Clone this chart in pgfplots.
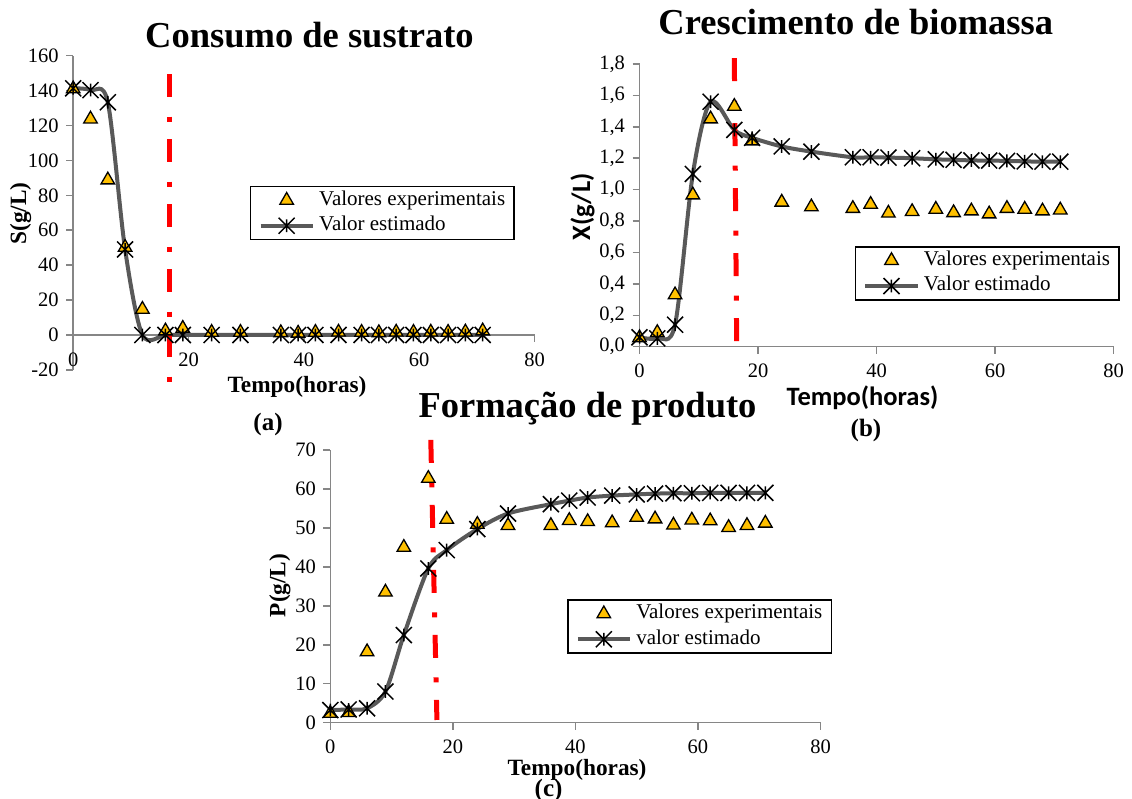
\documentclass[border=0pt]{standalone}
\usepackage{fontspec}
\setmainfont{Liberation Serif}
\newfontfamily\sansb{Carlito}
\usepackage{pgfplots}
\pgfplotsset{compat=1.18}

\definecolor{axgray}{RGB}{134,134,134}
\definecolor{curvegray}{RGB}{89,89,89}
\definecolor{gold}{RGB}{255,192,0}

\pgfdeclareplotmark{exstar}{%
  \pgfpathmoveto{\pgfqpoint{-\pgfplotmarksize}{-\pgfplotmarksize}}%
  \pgfpathlineto{\pgfqpoint{\pgfplotmarksize}{\pgfplotmarksize}}%
  \pgfpathmoveto{\pgfqpoint{-\pgfplotmarksize}{\pgfplotmarksize}}%
  \pgfpathlineto{\pgfqpoint{\pgfplotmarksize}{-\pgfplotmarksize}}%
  \pgfpathmoveto{\pgfqpoint{0pt}{-0.8\pgfplotmarksize}}%
  \pgfpathlineto{\pgfqpoint{0pt}{0.8\pgfplotmarksize}}%
  \pgfusepathqstroke
}

\pgfplotsset{
  panel/.style={
    scale only axis, anchor=south west, clip=false,
    axis line style={axgray, line width=1.5pt},
    tick style={axgray, line width=1.5pt},
    tick align=outside, major tick length=7pt,
    xmin=0, xmax=80, xtick={0,20,40,60,80},
    tick label style={font=\fontsize{20.5}{24}\selectfont, text=black},
    xticklabel style={yshift=-7pt},
    yticklabel style={xshift=-4pt},
    /pgf/number format/assume math mode=true,
    legend cell align=left,
    legend style={draw=black, line width=1.5pt, font=\fontsize{21}{24}\selectfont,
      anchor=north west, inner xsep=8pt, inner ysep=3.5pt, row sep=5pt, column sep=3.5pt,
      nodes={inner sep=1pt, text height=14pt, text depth=4.5pt}},
    legend image code/.code={\draw[mark repeat=2,mark phase=2,##1] plot coordinates {(0pt,0pt) (26pt,0pt) (52pt,0pt)};},
  },
  exp/.style={only marks, mark=triangle*, mark size=7.8pt,
    mark options={fill=gold, draw=black, line width=1.3pt, solid}},
  est/.style={curvegray, line width=4pt, smooth, tension=0.5, mark=exstar, mark size=8pt,
    mark options={draw=black, line width=1.5pt, solid}},
  redl/.style={red, line width=5pt, dash pattern=on 23pt off 19.5pt on 5pt off 17.5pt, forget plot},
}

\begin{document}
\begin{tikzpicture}[x=1pt,y=1pt]
\useasboundingbox (0,0) rectangle (1132,798);

% ---------- (a) ----------
\begin{axis}[axis x line*=middle, axis y line*=left, panel, tick align=outside,
  hide obscured x ticks=false,
  at={(73.2pt,428.1pt)}, width=461.4pt, height=314.2pt,
  ymin=-20, ymax=160, ytick={-20,0,20,40,60,80,100,120,140,160},
  legend style={at={(0.383,0.586)}}]
\addplot[exp] coordinates {(0,141)(3,123.7)(6,88.8)(9,50.2)(12,14.7)(16,2.3)(19,3.8)(24,1.5)(29,1.5)(36,1.3)(39,1.0)(42,1.5)(46,1.6)(50,1.5)(53,1.3)(56,1.6)(59,1.5)(62,1.6)(65,1.5)(68,1.7)(71,2.3)};
\addlegendentry{Valores experimentais}
\addplot[est] coordinates {(0,141.3)(3,140.3)(6,133.3)(9,49)(12,0)(16,0)(19,0)(24,0)(29,0)(36,0)(39,0)(42,0)(46,0)(50,0)(53,0)(56,0)(59,0)(62,0)(65,0)(68,0)(71,0)};
\addlegendentry{Valor estimado}
\addplot[redl] coordinates {(16.7,149.5)(16.7,-27.4)};
\end{axis}

% ---------- (b) ----------
\begin{axis}[axis x line*=bottom, axis y line*=left, panel, tick align=outside,
  at={(639.5pt,451.3pt)}, width=474.1pt, height=282.7pt,
  ymin=0, ymax=1.8, ytick={0,0.2,0.4,0.6,0.8,1.0,1.2,1.4,1.6,1.8},
  yticklabel style={/pgf/number format/.cd, fixed, fixed zerofill, precision=1, use comma},
  legend style={at={(0.454,0.356)}}]
\addplot[exp] coordinates {(0,0.057)(3,0.09)(6,0.33)(9,0.966)(12,1.45)(16,1.53)(19,1.31)(24,0.92)(29,0.89)(36,0.88)(39,0.906)(42,0.85)(46,0.86)(50,0.875)(53,0.853)(56,0.864)(59,0.845)(62,0.88)(65,0.875)(68,0.864)(71,0.87)};
\addlegendentry{Valores experimentais}
\addplot[est] coordinates {(0,0.06)(3,0.053)(6,0.14)(9,1.10)(12,1.56)(16,1.38)(19,1.33)(24,1.275)(29,1.242)(36,1.206)(39,1.206)(42,1.204)(46,1.2)(50,1.193)(53,1.19)(56,1.186)(59,1.185)(62,1.183)(65,1.18)(68,1.178)(71,1.178)};
\addlegendentry{Valor estimado}
\addplot[redl] coordinates {(16.0,1.837)(16.4,0.02)};
\end{axis}

% ---------- (c) ----------
\begin{axis}[axis x line*=bottom, axis y line*=left, panel, tick align=outside,
  at={(330.3pt,75.3pt)}, width=490.2pt, height=272.7pt,
  ymin=0, ymax=70, ytick={0,10,20,30,40,50,60,70},
  legend style={at={(0.483,0.4525)}}]
\addplot[exp] coordinates {(0,2.4)(3,2.6)(6,18.2)(9,33.5)(12,45)(16,62.7)(19,52.2)(24,50.9)(29,50.6)(36,50.6)(39,51.9)(42,51.6)(46,51.3)(50,52.7)(53,52.3)(56,50.7)(59,52)(62,51.8)(65,50.1)(68,50.6)(71,51.2)};
\addlegendentry{Valores experimentais}
\addplot[est] coordinates {(0,3.25)(3,3.4)(6,3.7)(9,8.0)(12,22.5)(16,39.6)(19,44.3)(24,49.7)(29,53.7)(36,56.1)(39,57)(42,57.8)(46,58.3)(50,58.6)(53,58.8)(56,58.9)(59,58.9)(62,59)(65,59)(68,59)(71,59)};
\addlegendentry{valor estimado}
\addplot[redl] coordinates {(16.4,72.6)(17.4,0.7)};
\end{axis}

% ---------- titles and labels ----------
\begin{scope}[every node/.style={font=\fontsize{36.5}{40}\selectfont\bfseries, anchor=base, inner sep=0pt}]
\node at (309.5,750.7) {Consumo de sustrato};
\node at (855.8,763) {Crescimento de biomassa};
\node at (587.5,380.7) {Formação de produto};
\end{scope}

\begin{scope}[every node/.style={font=\fontsize{23.3}{26}\selectfont\bfseries, inner sep=0pt}]
\node[anchor=base] at (297,405) {Tempo(horas)};
\node[anchor=base] at (577,23) {Tempo(horas)};
\node[rotate=90] at (20.5,584.5) {S(g/L)};
\node[rotate=90] at (279.8,212.5) {P(g/L)};
\end{scope}

\begin{scope}[every node/.style={font=\fontsize{25}{28}\selectfont\bfseries, anchor=base, inner sep=0pt}]
\node at (268,367) {(a)};
\node at (866,361) {(b)};
\node at (548.6,2) {(c)};
\end{scope}

\begin{scope}[every node/.style={font=\sansb\bfseries\fontsize{26.5}{30}\selectfont, inner sep=0pt}]
\node[anchor=base] at (862.5,392) {Tempo(horas)};
\node[rotate=90] at (582.5,591) {X(g/L)};
\end{scope}
\end{tikzpicture}
\end{document}
